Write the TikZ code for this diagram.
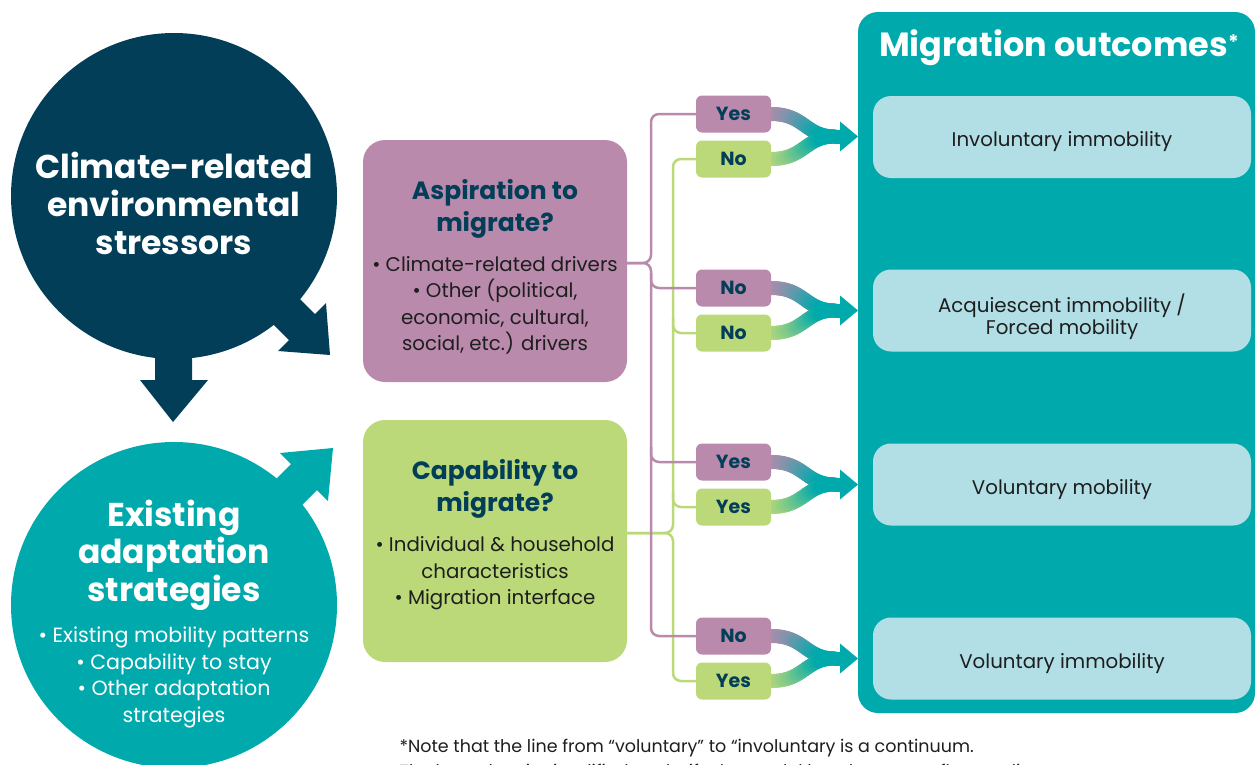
\documentclass[tikz,border=0pt]{standalone}
\usepackage{fontspec}
\setmainfont{Poppins}
\definecolor{navy}{HTML}{033E58}
\definecolor{tealc}{HTML}{00A9AC}
\definecolor{purp}{HTML}{B98AAB}
\definecolor{lime}{HTML}{BCD979}
\definecolor{pale}{HTML}{B1DFE5}
\definecolor{ink}{HTML}{1E1E1E}
\begin{document}
\begin{tikzpicture}[x=1pt,y=-1pt,
  bubble/.style={circle,inner sep=0pt,outer sep=0pt,minimum size=326pt},
  qbox/.style={rounded corners=22pt,inner sep=0pt,outer sep=0pt,minimum width=264pt,minimum height=242pt},
  yn/.style={rounded corners=6pt,inner sep=0pt,outer sep=0pt,minimum width=75pt,minimum height=37pt,
    text=navy,font=\fontsize{19}{20}\selectfont\bfseries},
  outbox/.style={fill=pale,rounded corners=18pt,inner sep=0pt,outer sep=0pt,minimum width=378pt,minimum height=82pt},
  outtext/.style={text=ink,align=center,font=\fontsize{19.8}{22}\selectfont},
  bigtitle/.style={text=white,align=center,font=\fontsize{33}{38}\selectfont\bfseries},
  boxtitle/.style={text=navy,align=center,font=\fontsize{25}{32}\selectfont\bfseries},
  bodytext/.style={align=center,font=\fontsize{19.8}{26.4}\selectfont},
  conn/.style={line width=2.5pt,rounded corners=8pt},
  bandw/.style={line width=14pt,line cap=round}]
\useasboundingbox (0,0) rectangle (1256,764);
\clip (0,0) rectangle (1256,764);

% the two driver bubbles
\node[bubble,fill=navy] (stress) at (174,196) {};
\node[bubble,fill=tealc] (adapt) at (174,605) {};

% block arrows leaving the bubbles
\fill[navy] (155,340) -- (155,380) -- (140,380) -- (173,422) -- (208,380) -- (192,380) -- (192,340) -- cycle;
\fill[navy] (273,272) -- (315,314) -- (326,303) -- (330,355) -- (278,351) -- (289,340) -- (247,298) -- cycle;
\fill[tealc] (275,532) -- (317,490) -- (328,501) -- (333,448) -- (280,453) -- (291,464) -- (249,506) -- cycle;

\node[bigtitle] at (174,203) {Climate-related\\environmental\\stressors};
\node[bigtitle,font=\fontsize{33}{37.5}\selectfont\bfseries] at (174,555) {Existing\\adaptation\\strategies};
\node[bodytext,text=white,font=\fontsize{20.6}{26.4}\selectfont] at (174,677.5) {• Existing mobility patterns\\• Capability to stay\\• Other adaptation\\strategies};

% question boxes
\node[qbox,fill=purp] (asp) at (495,261) {};
\node[qbox,fill=lime] (cap) at (495,541) {};
\node[boxtitle] at (495,209) {Aspiration to\\migrate?};
\node[bodytext,text=ink] at (495,305.5) {• Climate-related drivers\\• Other (political,\\economic, cultural,\\social, etc.) drivers};
\node[boxtitle] at (495,489) {Capability to\\migrate?};
\node[bodytext,text=ink] at (495,573.5) {• Individual \& household\\characteristics\\• Migration interface};

% outcome panel
\fill[tealc,rounded corners=20pt] (858,12) rectangle (1255,713);
\node[text=white,font=\fontsize{33.5}{36}\selectfont\bfseries] (otitle) at (1059,48)
  {Migration outcomes{\fontsize{20}{20}\selectfont\raisebox{7pt}{*}}};
\node[outbox] (o1) at (1062,137) {};
\node[outbox] (o2) at (1062,310.5) {};
\node[outbox] (o3) at (1062,484.5) {};
\node[outbox] (o4) at (1062,658.5) {};
\node[outtext] at (1062,142) {Involuntary immobility};
\node[outtext] at (1062,317) {Acquiescent immobility /\\Forced mobility};
\node[outtext] at (1062,490) {Voluntary mobility};
\node[outtext] at (1062,664) {Voluntary immobility};

% merging bands: each answer pair flows into one arrow
\foreach \ya/\yb in {114/159,288/333,462/507,636/681}{
  \pgfmathsetmacro\ym{(\ya+\yb)/2}
  \foreach \src/\yy in {purp/\ya,lime/\yb}{
    \foreach \i in {1,...,30}{
      \pgfmathsetmacro\ta{(\i-1)/30}
      \pgfmathsetmacro\tb{\i/30}
      \pgfmathsetmacro\xa{771*(1-\ta)^3+3*805*(1-\ta)^2*\ta+3*805*(1-\ta)*\ta^2+835*\ta^3}
      \pgfmathsetmacro\xb{771*(1-\tb)^3+3*805*(1-\tb)^2*\tb+3*805*(1-\tb)*\tb^2+835*\tb^3}
      \pgfmathsetmacro\ycA{\yy*((1-\ta)^3+3*(1-\ta)^2*\ta)+\ym*(3*(1-\ta)*\ta^2+\ta^3)}
      \pgfmathsetmacro\ycB{\yy*((1-\tb)^3+3*(1-\tb)^2*\tb)+\ym*(3*(1-\tb)*\tb^2+\tb^3)}
      \pgfmathtruncatemacro\mix{min(100,120*\tb)}
      \draw[bandw,color=tealc!\mix!\src] (\xa,\ycA) -- (\xb,\ycB);
    }
  }
  \draw[line width=14pt,tealc] (834,\ym) -- (842,\ym);
  \fill[tealc] (840,\ym-15) -- (858,\ym) -- (840,\ym+15) -- cycle;
}

% answer tags
\node[yn,fill=purp] (a1) at (733.5,114) {Yes};
\node[yn,fill=lime] (b1) at (733.5,159) {No};
\node[yn,fill=purp] (a2) at (733.5,288) {No};
\node[yn,fill=lime] (b2) at (733.5,333) {No};
\node[yn,fill=purp] (a3) at (733.5,462) {Yes};
\node[yn,fill=lime] (b3) at (733.5,507) {Yes};
\node[yn,fill=purp] (a4) at (733.5,636) {No};
\node[yn,fill=lime] (b4) at (733.5,681) {Yes};

% bracket connectors
\coordinate (aspout) at (627,263);
\coordinate (capout) at (627,533);
\draw[conn,lime] (b1.west) -| (673,533) -- (capout);
\draw[conn,lime] (b4.west) -| (673,533) -- (capout);
\draw[conn,lime] (673,318) |- (b2.west);
\draw[conn,lime] (673,492) |- (b3.west);
\draw[conn,purp] (a1.west) -| (651,263) -- (aspout);
\draw[conn,purp] (a4.west) -| (651,263) -- (aspout);
\draw[conn,purp] (651,273) |- (a2.west);
\draw[conn,purp] (651,447) |- (a3.west);

% footnote
\node[anchor=base west,text=ink,font=\fontsize{17.5}{25}\selectfont,align=left] (note) at (396,777)
  {*Note that the line from “voluntary” to “involuntary is a continuum.\\
   The boundary is simplified to clarify the model but does not reflect reality.};
\end{tikzpicture}
\end{document}
